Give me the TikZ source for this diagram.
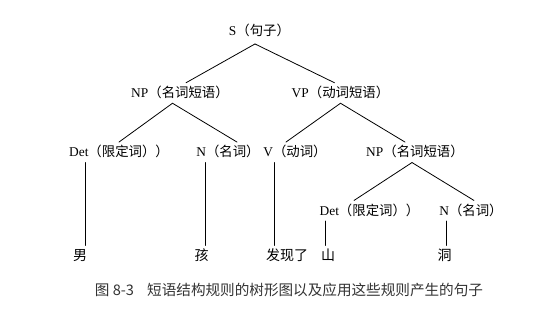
\documentclass[tikz,border=0pt]{standalone}
\usepackage{fontspec}
\setmainfont{Liberation Serif}
\newfontfamily\zhfont{Noto Sans CJK SC}
\newcommand{\zh}[1]{{\zhfont #1}}

\begin{document}
\begin{tikzpicture}[line cap=round,line join=round,x=1pt,y=-1pt,
  cat/.style={inner sep=2pt,outer sep=0pt,text height=1.28em,text depth=0.37em,font=\fontsize{13.4}{16}\selectfont},
  word/.style={cat,font=\fontsize{14}{16}\selectfont\zhfont},
  caption/.style={inner sep=1pt,text=black!80,font=\fontsize{14.6}{17}\selectfont\zhfont},
  branch/.style={line width=0.8pt}]
\useasboundingbox (0,0) rectangle (538,314);
\node [cat] (s) at (259.5,30.7) {S\zh{（句子）}};
\node [cat] (np) at (180,93) {NP\zh{（名词短语）}};
\node [cat] (vp) at (340.5,93) {VP\zh{（动词短语）}};
\node [cat] (det) at (119,152.3) {Det\zh{（限定词））}};
\node [cat] (n) at (228,152.3) {N\zh{（名词）}};
\node [cat] (v) at (295,152.3) {V\zh{（动词）}};
\node [cat] (np2) at (415,152.3) {NP\zh{（名词短语）}};
\node [cat] (det2) at (369.5,210.7) {Det\zh{（限定词））}};
\node [cat] (n2) at (471,210.7) {N\zh{（名词）}};
\node [word] (nan) at (80,255.7) {男};
\node [word] (hai) at (201.7,255.7) {孩};
\node [word] (faxian) at (287,255.7) {发现了};
\node [word] (shan) at (328,255.7) {山};
\node [word] (dong) at (444.5,255.7) {洞};
\node [caption] (cap) at (289,290) {图 8-3\hspace{0.9em}短语结构规则的树形图以及应用这些规则产生的句子};
% branches
\draw [branch] ([xshift=-4.5pt,yshift=-3pt]s.south) -- ([xshift=6pt]np.north);
\draw [branch] ([xshift=-4.5pt,yshift=-3pt]s.south) -- ([xshift=-6pt]vp.north);
\draw [branch] ([xshift=-7.5pt]np.south) -- (det.north);
\draw [branch] ([xshift=-7.5pt]np.south) -- ([xshift=9pt]n.north);
\draw [branch] (vp.south) -- ([xshift=-9pt]v.north);
\draw [branch] (vp.south) -- ([xshift=-10pt]np2.north);
\draw [branch] ([xshift=-3pt]np2.south) -- ([xshift=-15.5pt]det2.north);
\draw [branch] ([xshift=-3pt]np2.south) -- ([xshift=3pt]n2.north);
\foreach \c/\d/\w in {det/18.5/nan,n/10.7/hai,v/13.5/faxian,det2/8/shan,n2/8.7/dong}
  \draw [branch] ([xshift=\d pt]\c.south west) coordinate (\c foot) -- (\c foot |- \w.north);
\end{tikzpicture}
\end{document}
